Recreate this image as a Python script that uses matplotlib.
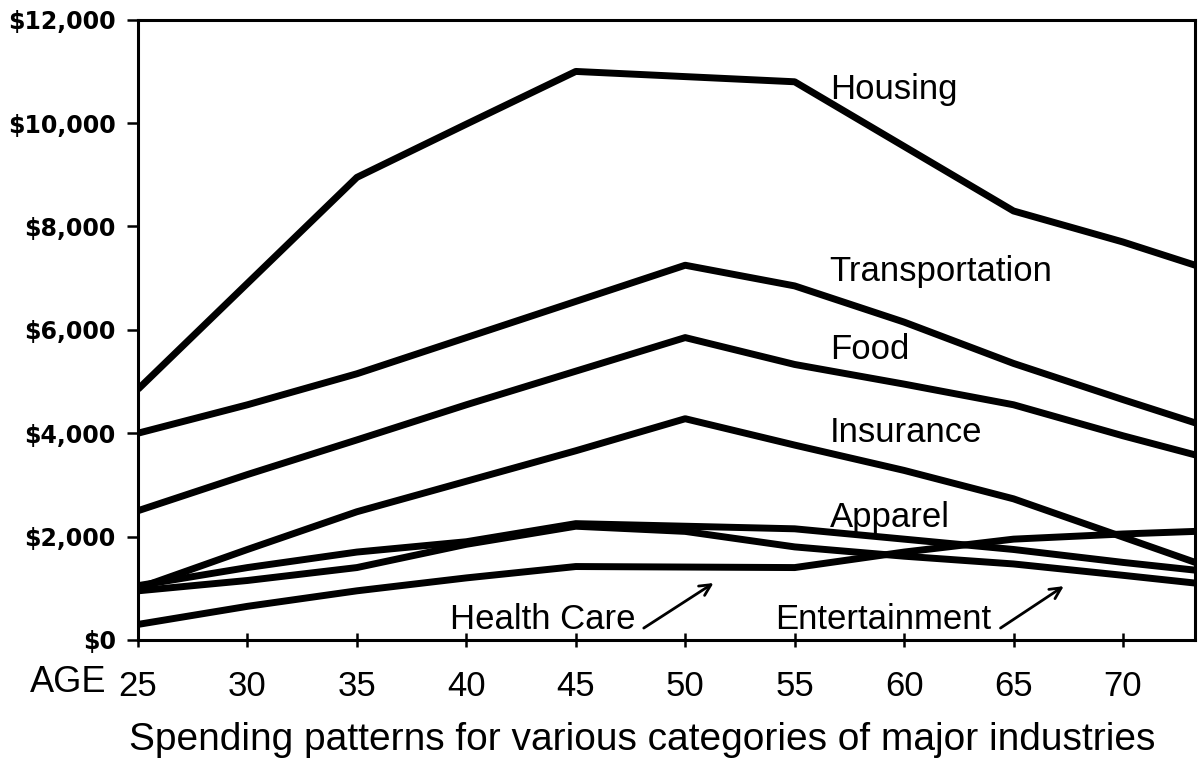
import matplotlib
matplotlib.use("Agg")
import matplotlib.pyplot as plt
from matplotlib.ticker import FuncFormatter

# Annual spending by age for each industry category (US dollars)
ages = [25, 30, 35, 40, 45, 50, 55, 60, 65, 70, 73.3]

housing        = [4850, 6900, 8950, 9980, 11000, 10900, 10800, 9550, 8300, 7700, 7250]
transportation = [4000, 4550, 5150, 5850, 6550, 7250, 6850, 6150, 5350, 4650, 4200]
food           = [2500, 3200, 3870, 4550, 5200, 5850, 5330, 4950, 4550, 3950, 3580]
insurance      = [1000, 1750, 2480, 3070, 3660, 4280, 3770, 3280, 2730, 1990, 1500]
apparel        = [1050, 1400, 1700, 1900, 2250, 2200, 2150, 1950, 1750, 1500, 1350]
entertainment  = [950, 1150, 1400, 1850, 2200, 2100, 1800, 1620, 1470, 1250, 1100]
health_care    = [300, 650, 950, 1200, 1420, 1410, 1400, 1700, 1950, 2050, 2100]

series = [housing, transportation, food, insurance, apparel, entertainment, health_care]

x_ticks = [25, 30, 35, 40, 45, 50, 55, 60, 65, 70]
y_ticks = [0, 2000, 4000, 6000, 8000, 10000, 12000]

title = "Spending patterns for various categories of major industries"

fig = plt.figure(figsize=(12, 7.6), dpi=100)
ax = fig.add_axes([0.115, 0.158, 0.881, 0.816])

for values in series:
    ax.plot(ages, values, color="black", lw=5.0, solid_joinstyle="round",
            solid_capstyle="butt", clip_on=True)

ax.set_xlim(25, 73.3)
ax.set_ylim(0, 12000)

for side in ax.spines.values():
    side.set_linewidth(2.2)

ax.set_xticks(x_ticks)
ax.set_yticks(y_ticks)
ax.yaxis.set_major_formatter(FuncFormatter(lambda v, p: f"${v:,.0f}"))
ax.tick_params(axis="y", direction="out", length=8, width=1.8, pad=8)
ax.tick_params(axis="x", direction="inout", length=10, width=1.8, pad=17)
for lab in ax.get_yticklabels():
    lab.set_fontfamily("DejaVu Sans")
    lab.set_fontweight("bold")
    lab.set_fontsize(17)
for lab in ax.get_xticklabels():
    lab.set_fontfamily("Liberation Sans")
    lab.set_fontsize(25)

fig.text(0.025, 1 - 683 / 760, "AGE", fontsize=26, family="Liberation Sans",
         va="center", ha="left")

# Category names next to their lines
label_font = dict(fontsize=25, family="Liberation Sans", va="center", ha="left")
ax.text(56.6, 10650, "Housing", **label_font)
ax.text(56.6, 7120, "Transportation", **label_font)
ax.text(56.6, 5610, "Food", **label_font)
ax.text(56.6, 4010, "Insurance", **label_font)
ax.text(56.6, 2360, "Apparel", **label_font)
ax.text(39.25, 390, "Health Care", **label_font)
ax.text(54.1, 390, "Entertainment", **label_font)

arrow = dict(arrowstyle="->,head_length=0.8,head_width=0.4", lw=2.0, color="black")
ax.annotate("", xy=(51.4, 1130), xytext=(48.0, 200), arrowprops=arrow)
ax.annotate("", xy=(67.4, 1070), xytext=(64.3, 200), arrowprops=arrow)

fig.text(0.535, 1 - 740 / 760, title, fontsize=28, family="Liberation Sans",
         ha="center", va="center")

fig.savefig("out.png", dpi=100)
